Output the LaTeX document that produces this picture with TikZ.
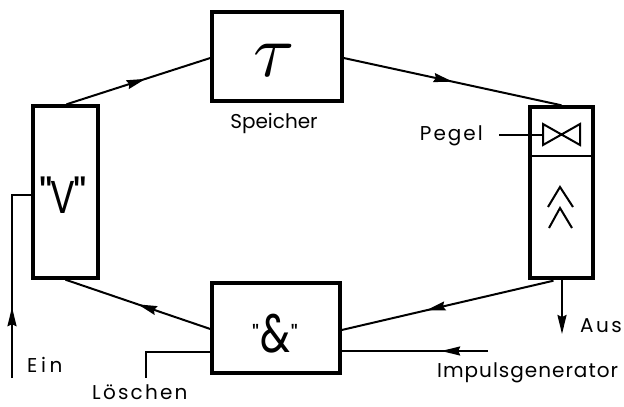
\documentclass[tikz,border=0pt]{standalone}
\usepackage{fontspec}
\setmainfont{Poppins}
\newfontfamily\pq{Poppins}[Ligatures=TeXOff]
\usetikzlibrary{arrows.meta,decorations.markings,calc}
\tikzset{
  blk/.style={draw, line width=3.4pt, minimum width=#1, inner sep=0pt},
  conn/.style={line width=2pt},
  tip/.tip={Stealth[length=19pt,width=9pt,inset=2pt]},
  midarrow/.style={postaction={decorate}, decoration={markings,
    mark=at position #1 with {\arrow{tip}}}},
  lbl/.style={font=\fontsize{20}{20}\selectfont, inner sep=0pt},
}
\begin{document}
\begin{tikzpicture}[x=1pt,y=-1pt]
\useasboundingbox (0,0) rectangle (624,407);
% boxes
\node[blk=65pt, minimum height=172pt] (V) at (65.5,192) {};
\node[inner sep=0pt] (Vt) at (63,195) {\pq\fontsize{46}{46}\selectfont"\kern-2pt\scalebox{0.8}[1]{V}\kern-2pt"};
\node[blk=130pt, minimum height=89pt] (T) at (277,56.5) {};
\node[inner sep=0pt] (Tt) at (274,60) {\scalebox{7.5}{$\tau$}};
\node[lbl, anchor=base] (Sp) at (274,128) {Speicher};
\node[blk=63pt, minimum height=171pt] (R) at (561.5,192.5) {};
\draw[line width=2.8pt] (R.west |- 0,156) coordinate (Rdl) -- (R.east |- 0,156) coordinate (Rdr);
\node[blk=128pt, minimum height=90pt] (A) at (276,328) {};
\node[inner sep=0pt] (At) at (275,334) {\pq\raisebox{9pt}{\fontsize{24}{24}\selectfont"}\kern1pt\fontsize{54}{54}\selectfont\scalebox{0.75}[1]{\&}\kern1pt\raisebox{9pt}{\fontsize{24}{24}\selectfont"}};
% bowtie
\coordinate (b1) at (543,124); \coordinate (b2) at (543,145);
\coordinate (b3) at (580,124); \coordinate (b4) at (580,145);
\draw[conn, line join=miter] (b1) -- (b2) -- (b3) -- (b4) -- (b1) -- cycle;
\coordinate (pg) at (499,135);
\draw[conn] (pg) -- (b1 |- pg);
\node[lbl, anchor=base east] (Pe) at (483,140) {\addfontfeature{LetterSpace=10}Pegel};
% chevrons
\coordinate (c1) at (560,187);
\coordinate (c2) at (560,208);
\draw[conn] ($(c1)+(-12,20)$) -- (c1) -- ($(c1)+(13,20)$);
\draw[conn] ($(c2)+(-11,20)$) -- (c2) -- ($(c2)+(12,20)$);
% loop connectors
\draw[conn, midarrow=0.55] ([xshift=1pt]V.north) -- ([yshift=-1.5pt]T.west);
\draw[conn, midarrow=0.5] ([yshift=-1.5pt]T.east) -- (R.north);
\draw[conn, midarrow=0.6] ([xshift=-8pt,yshift=-1pt]R.south) -- ([yshift=-2pt]A.east);
\draw[conn, midarrow=0.5] ([yshift=-1pt]A.west) -- (V.south);
% Aus
\coordinate (aus) at (562,334);
\draw[conn, -tip] (R.south -| aus) -- (aus);
\node[lbl, anchor=base west] (Au) at (580,332) {\addfontfeature{LetterSpace=12}Aus};
% Impulsgenerator
\coordinate (imp) at (488,351);
\draw[conn, midarrow=0.32] (imp) -- (A.east |- imp);
\node[lbl, anchor=base west] (Ig) at (437,377) {\addfontfeature{LetterSpace=5}Impulsgenerator};
% Loeschen
\coordinate (lo) at (146,378);
\draw[conn] (A.west |- 0,352) -- (lo |- 0,352) -- (lo);
\node[lbl, anchor=base west] (Lo) at (92,399) {\addfontfeature{LetterSpace=11}Löschen};
% Ein
\coordinate (ein) at (12,378);
\draw[conn, midarrow=0.35] (ein) -- (ein |- 0,195) -- (V.west |- 0,195);
\node[lbl, anchor=base west] (Ei) at (27,372) {\addfontfeature{LetterSpace=18}Ein};
\end{tikzpicture}
\end{document}
